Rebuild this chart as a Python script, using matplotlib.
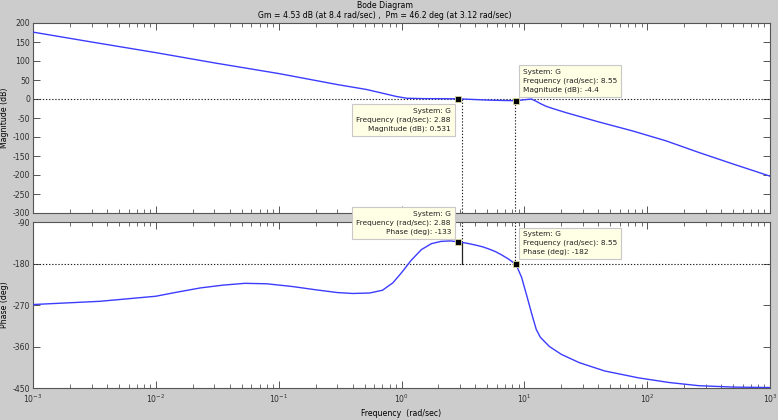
import numpy as np
import matplotlib
matplotlib.use("Agg")
import matplotlib.pyplot as plt
from matplotlib.ticker import LogLocator, NullFormatter


# =========================
# Data
# =========================
freq_mag = [0.001, 0.003, 0.01, 0.03, 0.1, 0.3, 0.52, 0.75, 0.91, 1.1, 1.5,
            2.0, 2.88, 4.0, 5.2, 7.0, 8.55, 10.0, 11.4, 12.5, 13.5, 15.0,
            17.0, 21.9, 40.0, 76.0, 142.0, 265.0, 500.0, 1000.0]
mag_db = [176, 150, 122, 95, 67, 38, 25, 13, 6.6, 2.0, 1.0,
          0.8, 0.53, -1.5, -3.0, -4.0, -4.4, -2.0, 0.0, -6.0, -12.0, -19.0,
          -25, -36, -60, -84, -110, -141, -171, -203]

freq_ph = [0.001, 0.0035, 0.01, 0.0143, 0.023, 0.035, 0.053, 0.08, 0.13,
           0.2, 0.3, 0.4, 0.55, 0.7, 0.85, 1.0, 1.2, 1.45, 1.75, 2.1, 2.5, 2.88,
           3.4, 4.0, 4.6, 5.2, 5.8, 6.5, 7.4, 8.55, 9.5, 10.5, 11.4, 12.5, 13.5,
           16.0, 20.0, 28.0, 45.0, 85.0, 150.0, 263.0, 500.0, 1000.0]
phase_deg = [-269, -262, -251, -243, -233, -227, -223, -224, -230,
             -237, -243, -245, -244, -238, -222, -200, -173, -150, -137, -132, -131, -133,
             -136, -140, -144, -149, -154, -161, -170, -182, -210, -251, -286, -323, -340,
             -360, -377, -395, -413, -428, -438, -445, -448, -449]

gm_db, gm_freq = 4.53, 8.4
pm_deg, pm_freq = 46.2, 3.12

tip_freq = [2.88, 8.55]
tip_mag = [0.531, -4.4]
tip_phase = [-133, -182]

mag_ticks = [200, 150, 100, 50, 0, -50, -100, -150, -200, -250, -300]
phase_ticks = [-90, -180, -270, -360, -450]

# =========================
# Style
# =========================
BG = "#cccccc"
LINE = "#3c3cff"
EDGE = "#555555"
TIP_BG = "#ffffe6"
FS = 5.6
TIP_FS = 5.3
DOT = (0, (1.2, 1.6))

plt.rcParams["font.family"] = ["DejaVu Sans"]
plt.rcParams["font.size"] = FS

fig = plt.figure(figsize=(7.78, 4.2), dpi=100, facecolor=BG)
ax_m = fig.add_axes([33 / 778, 1 - 213 / 420, 737 / 778, 190 / 420])
ax_p = fig.add_axes([33 / 778, 1 - 388 / 420, 737 / 778, 166 / 420])


def style_axes(ax):
    ax.set_xscale("log")
    ax.set_xlim(1e-3, 1e3)
    ax.xaxis.set_major_locator(LogLocator(base=10, numticks=10))
    ax.xaxis.set_minor_locator(LogLocator(base=10, subs=np.arange(2, 10), numticks=10))
    ax.xaxis.set_minor_formatter(NullFormatter())
    ax.tick_params(which="both", direction="in", top=True, right=True,
                   colors=EDGE, labelcolor="#303030", labelsize=FS, pad=2)
    ax.tick_params(which="major", length=5, width=0.7)
    ax.tick_params(which="minor", length=2.6, width=0.6)
    ax.tick_params(axis="x", pad=3.5)
    for s in ax.spines.values():
        s.set_color(EDGE)
        s.set_linewidth(0.8)


style_axes(ax_m)
style_axes(ax_p)

# magnitude
ax_m.plot(freq_mag, mag_db, color=LINE, lw=1.0, zorder=3)
ax_m.set_ylim(-300, 200)
ax_m.set_yticks(mag_ticks)
ax_m.set_yticklabels([str(t) for t in mag_ticks])
ax_m.tick_params(axis="x", labelbottom=False)
ax_m.axhline(0, color="#222222", ls=DOT, lw=0.8, zorder=2)
ax_m.plot([pm_freq, pm_freq], [0, -300], color="#222222", ls=DOT, lw=0.8)
ax_m.plot([gm_freq, gm_freq], [0, -gm_db], color="#222222", lw=0.8)
ax_m.plot([gm_freq, gm_freq], [-gm_db, -300], color="#222222", ls=DOT, lw=0.8)
ax_m.set_ylabel("Magnitude (dB)", fontsize=FS, labelpad=3)

# phase
ax_p.plot(freq_ph, phase_deg, color=LINE, lw=1.0, zorder=3)
ax_p.set_ylim(-450, -90)
ax_p.set_yticks(phase_ticks)
ax_p.set_yticklabels([str(t) for t in phase_ticks])
ax_p.axhline(-180, color="#222222", ls=DOT, lw=0.8, zorder=2)
ax_p.plot([pm_freq, pm_freq], [-90, -180 + pm_deg], color="#222222", ls=DOT, lw=0.8)
ax_p.plot([pm_freq, pm_freq], [-180 + pm_deg, -180], color="#222222", lw=0.9)
ax_p.plot([gm_freq, gm_freq], [-90, -180], color="#222222", ls=DOT, lw=0.8)
ax_p.set_ylabel("Phase (deg)", fontsize=FS, labelpad=3)
ax_p.set_xlabel("Frequency  (rad/sec)", fontsize=FS, labelpad=3)

# titles
fig.text(0.495, 1 - 6 / 420, "Bode Diagram", ha="center", va="center", fontsize=FS)
fig.text(0.495, 1 - 16 / 420,
         "Gm = %.2f dB (at %.1f rad/sec) ,  Pm = %.1f deg (at %.2f rad/sec)"
         % (gm_db, gm_freq, pm_deg, pm_freq),
         ha="center", va="center", fontsize=FS)


# =========================
# Data tips
# =========================
def data_tip(ax, f, v, label, value, offset, ha, va):
    ax.plot([f], [v], marker="s", ms=4.5, color="black", mec="#d8d8a0",
            mew=0.6, zorder=6, clip_on=False)
    txt = "System: G\nFrequency (rad/sec): %s\n%s: %s" % (f, label, value)
    ax.annotate(txt, xy=(f, v), xytext=offset, textcoords="offset pixels",
                ha=ha, va=va, multialignment=ha, fontsize=TIP_FS, linespacing=1.5,
                color="#202020", zorder=7, annotation_clip=False,
                bbox=dict(boxstyle="square,pad=0.55", fc=TIP_BG, ec="#c8c8c8", lw=0.8))


data_tip(ax_m, tip_freq[0], tip_mag[0], "Magnitude (dB)", tip_mag[0], (-7, -9), "right", "top")
data_tip(ax_m, tip_freq[1], tip_mag[1], "Magnitude (dB)", tip_mag[1], (7, 8), "left", "bottom")
data_tip(ax_p, tip_freq[0], tip_phase[0], "Phase (deg)", tip_phase[0], (-7, 7), "right", "bottom")
data_tip(ax_p, tip_freq[1], tip_phase[1], "Phase (deg)", tip_phase[1], (7, 9), "left", "bottom")

fig.savefig("out.png", dpi=100, facecolor=BG)
